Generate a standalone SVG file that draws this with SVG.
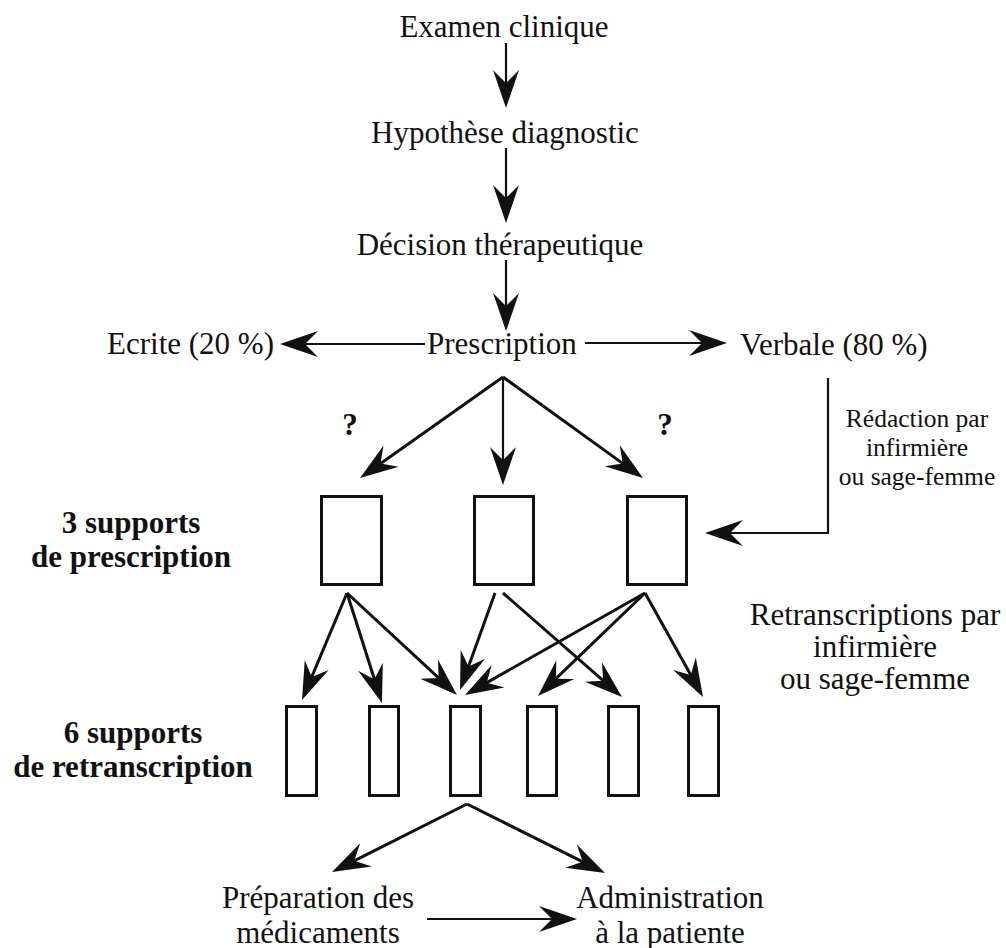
<svg xmlns="http://www.w3.org/2000/svg" width="1006" height="948" viewBox="0 0 1006 948">
<style>
text{font-family:"Liberation Serif","Times New Roman",serif;font-size:31px;fill:#111}
.c{text-anchor:middle}
.b{font-weight:bold}
.s{font-size:25.5px}
.box{fill:#fff;stroke:#111;stroke-width:3}
.ln{fill:none;stroke:#111;stroke-width:3;marker-end:url(#ah)}
.thin{stroke-width:2.2}
</style>
<defs>
<marker id="ah" markerUnits="userSpaceOnUse" viewBox="-22 -14 40 28" refX="0" refY="0" markerWidth="40" markerHeight="28" orient="auto" overflow="visible">
<path d="M17,0 L-21,-13 L-8,0 L-21,13 Z" fill="#111"/>
</marker>
</defs>
<rect width="1006" height="948" fill="#fff"/>
<g id="connectors">
<line class="ln thin" x1="506" y1="43" x2="506" y2="91"/>
<line class="ln thin" x1="506" y1="148" x2="506" y2="206"/>
<line class="ln thin" x1="506" y1="260" x2="506" y2="314"/>
<line class="ln thin" x1="425" y1="344" x2="297" y2="344"/>
<line class="ln thin" x1="585" y1="343" x2="710" y2="343"/>
<path class="ln thin" d="M828,378 V533 H722"/>
<line class="ln" x1="503" y1="377" x2="373.9" y2="468.2"/>
<line class="ln thin" x1="503" y1="377" x2="503" y2="468"/>
<line class="ln" x1="503" y1="377" x2="629.2" y2="468.1"/>
<line class="ln" x1="347" y1="593" x2="308.6" y2="684.3"/>
<line class="ln" x1="347" y1="593" x2="376.8" y2="686.8"/>
<line class="ln" x1="347" y1="593" x2="444.5" y2="683.4"/>
<line class="ln" x1="495" y1="593" x2="465.8" y2="674"/>
<line class="ln" x1="503" y1="593" x2="609.2" y2="685.9"/>
<line class="ln" x1="645" y1="593" x2="479.8" y2="686.6"/>
<line class="ln" x1="645" y1="593" x2="550.2" y2="684.2"/>
<line class="ln" x1="645" y1="593" x2="694.7" y2="682.1"/>
<line class="ln" x1="467" y1="804" x2="347.2" y2="864.3"/>
<line class="ln" x1="467" y1="804" x2="589.8" y2="865.4"/>
<line class="ln thin" x1="427" y1="919" x2="560" y2="919"/>
</g>
<g id="examen"><text class="c" x="504" y="37">Examen clinique</text></g>
<g id="hypothese"><text class="c" x="505" y="143">Hypothèse diagnostic</text></g>
<g id="decision"><text class="c" x="500" y="255">Décision thérapeutique</text></g>
<g id="ecrite"><text x="107" y="354">Ecrite (20 %)</text></g>
<g id="prescription"><text x="427" y="354">Prescription</text></g>
<g id="verbale"><text x="740" y="355">Verbale (80 %)</text></g>
<g id="q-left"><text class="c b" x="350" y="435">?</text></g>
<g id="q-right"><text class="c b" x="665" y="435">?</text></g>
<g id="redaction-label">
<text class="c s" x="917" y="427">Rédaction par</text>
<text class="c s" x="917" y="456">infirmière</text>
<text class="c s" x="917" y="485">ou sage-femme</text>
</g>
<g id="label-3supports">
<text class="c b" x="131" y="533">3 supports</text>
<text class="c b" x="131" y="567">de prescription</text>
</g>
<g id="label-6supports">
<text class="c b" x="133" y="743">6 supports</text>
<text class="c b" x="133" y="777">de retranscription</text>
</g>
<g id="retranscription-label">
<text class="c" x="875" y="625">Retranscriptions par</text>
<text class="c" x="875" y="657">infirmière</text>
<text class="c" x="875" y="689">ou sage-femme</text>
</g>
<g id="support-p1"><rect class="box" x="321.5" y="496.5" width="60" height="88"/></g>
<g id="support-p2"><rect class="box" x="474.5" y="496.5" width="59" height="88"/></g>
<g id="support-p3"><rect class="box" x="627.5" y="496.5" width="59" height="88"/></g>
<g id="support-r1"><rect class="box" x="286.5" y="706.5" width="30" height="89"/></g>
<g id="support-r2"><rect class="box" x="369.5" y="706.5" width="29" height="89"/></g>
<g id="support-r3"><rect class="box" x="450.5" y="706.5" width="30" height="89"/></g>
<g id="support-r4"><rect class="box" x="527.5" y="706.5" width="29" height="89"/></g>
<g id="support-r5"><rect class="box" x="608.5" y="706.5" width="30" height="89"/></g>
<g id="support-r6"><rect class="box" x="688.5" y="706.5" width="30" height="89"/></g>
<g id="preparation">
<text class="c" x="318" y="908">Préparation des</text>
<text class="c" x="318" y="943">médicaments</text>
</g>
<g id="administration">
<text class="c" x="670" y="908">Administration</text>
<text class="c" x="670" y="943">à la patiente</text>
</g>
</svg>
